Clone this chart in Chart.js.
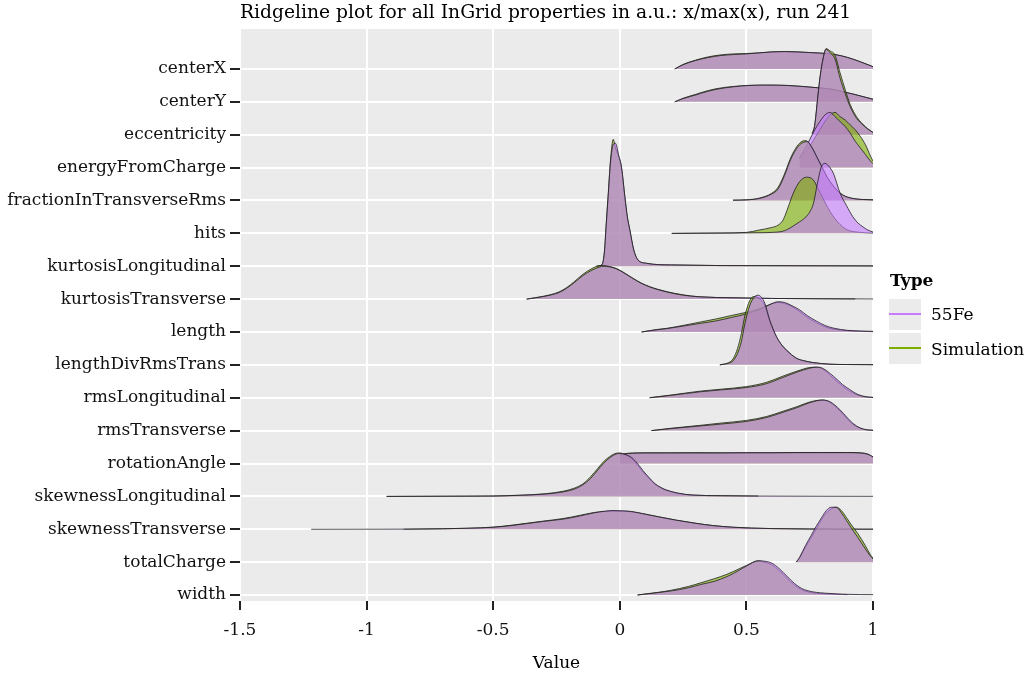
<!DOCTYPE html>
<html><head><meta charset="utf-8">
<script src="https://cdn.jsdelivr.net/npm/chart.js@4.4.0/dist/chart.umd.min.js"></script>
<style>
html,body{margin:0;padding:0;background:#fff;}
#wrap{position:relative;width:1028px;height:677px;overflow:hidden;}
#title{position:absolute;left:240px;top:0px;font:18.7px "DejaVu Serif",serif;color:#000;white-space:nowrap;line-height:24px;}
.lg{position:absolute;font:17px "DejaVu Serif",serif;color:#000;white-space:nowrap;line-height:22px;}
.key{position:absolute;left:889px;width:32px;height:31px;background:#EBEBEB;}
.key i{position:absolute;left:0;right:0;top:14px;height:2px;display:block;}
</style></head>
<body>
<div id="wrap">
<canvas id="c" width="1028" height="677"></canvas>
<div id="title">Ridgeline plot for all InGrid properties in a.u.: x/max(x), run 241</div>
<div class="lg" style="left:890px;top:269px;font-weight:bold;">Type</div>
<div class="key" style="top:299px;"><i style="background:#C77CFF"></i></div>
<div class="key" style="top:333px;"><i style="background:#7CAE00"></i></div>
<div class="lg" id="lg0" style="left:931px;top:303px;"></div>
<div class="lg" id="lg1" style="left:931px;top:338px;"></div>
</div>
<script>
const categories = ['centerX','centerY','eccentricity','energyFromCharge','fractionInTransverseRms','hits','kurtosisLongitudinal','kurtosisTransverse','length','lengthDivRmsTrans','rmsLongitudinal','rmsTransverse','rotationAngle','skewnessLongitudinal','skewnessTransverse','totalCharge','width'];
const types = ['55Fe','Simulation'];
const xTicks = [-1.5,-1,-0.5,0,0.5,1];

// ridge outlines as [value, scaled density] pairs
const fe_centerX = [[0.217,0],[0.25,0.13],[0.3,0.26],[0.35,0.35],[0.4,0.41],[0.45,0.44],[0.5,0.46],[0.55,0.49],[0.6,0.52],[0.65,0.53],[0.7,0.52],[0.75,0.5],[0.8,0.48],[0.85,0.44],[0.9,0.35],[0.95,0.22],[1.0,0.07]];
const sim_centerX = [[0.217,0],[0.25,0.14],[0.3,0.27],[0.35,0.37],[0.4,0.43],[0.45,0.46],[0.5,0.47],[0.55,0.49],[0.6,0.52],[0.65,0.53],[0.7,0.52],[0.75,0.5],[0.8,0.48],[0.85,0.44],[0.9,0.35],[0.95,0.22],[1.0,0.07]];
const fe_centerY = [[0.217,0],[0.25,0.1],[0.3,0.21],[0.32,0.26],[0.38,0.38],[0.45,0.46],[0.51,0.5],[0.58,0.51],[0.66,0.5],[0.72,0.47],[0.78,0.43],[0.84,0.38],[0.88,0.31],[0.92,0.24],[0.96,0.16],[1.0,0.08]];
const sim_centerY = [[0.217,0],[0.25,0.11],[0.3,0.23],[0.32,0.28],[0.38,0.4],[0.45,0.47],[0.51,0.5],[0.58,0.51],[0.66,0.5],[0.72,0.47],[0.78,0.43],[0.84,0.38],[0.88,0.31],[0.92,0.24],[0.96,0.16],[1.0,0.08]];
const fe_eccentricity = [[0.76,0.03],[0.77,0.3],[0.78,1.0],[0.79,1.7],[0.8,2.2],[0.815,2.6],[0.83,2.5],[0.85,2.3],[0.87,1.72],[0.89,1.25],[0.91,0.85],[0.935,0.5],[0.96,0.3],[0.98,0.17],[1.0,0.07]];
const sim_eccentricity = [[0.76,0.03],[0.77,0.3],[0.78,1.0],[0.79,1.7],[0.8,2.2],[0.815,2.62],[0.83,2.55],[0.85,2.42],[0.87,1.88],[0.89,1.38],[0.91,0.92],[0.935,0.55],[0.96,0.32],[0.98,0.18],[1.0,0.07]];
const fe_energyFromCharge = [[0.71,0.3],[0.73,0.55],[0.75,0.85],[0.77,1.15],[0.79,1.4],[0.81,1.6],[0.83,1.68],[0.85,1.55],[0.87,1.4],[0.89,1.25],[0.91,1.05],[0.93,0.8],[0.95,0.6],[0.97,0.4],[0.99,0.2],[1.0,0.12]];
const sim_energyFromCharge = [[0.71,0.3],[0.73,0.45],[0.75,0.65],[0.77,0.9],[0.79,1.15],[0.81,1.4],[0.83,1.6],[0.85,1.68],[0.87,1.55],[0.89,1.45],[0.91,1.3],[0.93,1.15],[0.95,0.95],[0.97,0.7],[0.99,0.35],[1.0,0.2]];
const fe_fractionInTransverseRms = [[0.447,0.01],[0.5,0.02],[0.55,0.06],[0.6,0.2],[0.625,0.35],[0.65,0.75],[0.675,1.25],[0.7,1.6],[0.72,1.75],[0.74,1.79],[0.76,1.6],[0.78,1.3],[0.8,1.0],[0.82,0.7],[0.84,0.48],[0.86,0.3],[0.88,0.17],[0.9,0.1],[0.93,0.05],[0.96,0.03],[1.0,0.02]];
const sim_fractionInTransverseRms = [[0.447,0.01],[0.5,0.02],[0.55,0.07],[0.6,0.22],[0.625,0.4],[0.65,0.8],[0.675,1.3],[0.7,1.65],[0.72,1.8],[0.735,1.82],[0.76,1.58],[0.78,1.28],[0.8,0.98],[0.82,0.68],[0.84,0.46],[0.86,0.29],[0.88,0.17],[0.9,0.1],[0.93,0.05],[0.96,0.03],[1.0,0.02]];
const fe_hits = [[0.205,0],[0.4,0.01],[0.55,0.02],[0.6,0.03],[0.65,0.08],[0.7,0.3],[0.735,0.5],[0.75,0.65],[0.765,0.92],[0.78,1.5],[0.795,2.0],[0.81,2.13],[0.83,2.0],[0.845,1.8],[0.87,1.22],[0.895,0.85],[0.92,0.51],[0.94,0.32],[0.96,0.2],[0.98,0.1],[1.0,0.04]];
const sim_hits = [[0.205,0],[0.4,0.01],[0.5,0.03],[0.55,0.1],[0.6,0.18],[0.625,0.25],[0.645,0.41],[0.665,0.8],[0.685,1.22],[0.71,1.57],[0.737,1.71],[0.765,1.62],[0.78,1.4],[0.8,1.1],[0.82,0.8],[0.84,0.55],[0.86,0.35],[0.88,0.2],[0.9,0.1],[0.95,0.03],[1.0,0.01]];
const fe_kurtosisLongitudinal = [[-0.092,0],[-0.07,0.05],[-0.06,0.5],[-0.055,1.1],[-0.046,2.12],[-0.037,3.13],[-0.026,3.7],[-0.017,3.74],[-0.005,3.4],[0.007,3.0],[0.02,2.12],[0.03,1.5],[0.04,1.1],[0.055,0.5],[0.072,0.19],[0.105,0.09],[0.15,0.05],[0.2,0.04],[0.4,0.02],[0.7,0.015],[1.0,0.01]];
const sim_kurtosisLongitudinal = [[-0.092,0],[-0.07,0.05],[-0.06,0.5],[-0.055,1.12],[-0.046,2.16],[-0.037,3.2],[-0.026,3.86],[-0.017,3.6],[-0.005,3.35],[0.007,2.98],[0.02,2.1],[0.03,1.48],[0.04,1.08],[0.055,0.5],[0.072,0.19],[0.105,0.09],[0.15,0.05],[0.2,0.04],[0.4,0.02],[0.7,0.015],[1.0,0.01]];
const fe_kurtosisTransverse = [[-0.368,0],[-0.3,0.08],[-0.276,0.12],[-0.24,0.2],[-0.21,0.33],[-0.18,0.5],[-0.145,0.72],[-0.11,0.88],[-0.079,0.98],[-0.066,1.0],[-0.04,0.98],[-0.013,0.92],[0.02,0.78],[0.053,0.62],[0.085,0.48],[0.118,0.37],[0.15,0.29],[0.184,0.22],[0.25,0.12],[0.316,0.07],[0.447,0.04],[0.6,0.02],[0.8,0.01],[0.93,0.005]];
const sim_kurtosisTransverse = [[-0.368,0],[-0.3,0.09],[-0.276,0.13],[-0.24,0.22],[-0.21,0.35],[-0.18,0.53],[-0.145,0.76],[-0.11,0.93],[-0.079,1.02],[-0.066,1.02],[-0.04,0.99],[-0.013,0.93],[0.02,0.79],[0.053,0.63],[0.085,0.49],[0.118,0.38],[0.15,0.3],[0.184,0.23],[0.25,0.13],[0.316,0.07],[0.447,0.04],[0.6,0.02],[0.8,0.01],[1.0,0.005]];
const fe_length = [[0.086,0],[0.15,0.07],[0.184,0.1],[0.25,0.18],[0.316,0.26],[0.382,0.34],[0.44,0.44],[0.5,0.55],[0.55,0.68],[0.6,0.86],[0.625,0.92],[0.65,0.9],[0.68,0.8],[0.711,0.67],[0.74,0.5],[0.777,0.33],[0.81,0.2],[0.843,0.12],[0.9,0.05],[0.95,0.03],[1.0,0.02]];
const sim_length = [[0.086,0],[0.15,0.08],[0.184,0.11],[0.25,0.2],[0.316,0.3],[0.382,0.4],[0.44,0.5],[0.5,0.6],[0.55,0.7],[0.6,0.86],[0.625,0.9],[0.65,0.87],[0.68,0.77],[0.711,0.62],[0.74,0.45],[0.777,0.28],[0.81,0.16],[0.843,0.09],[0.9,0.04],[0.95,0.02],[1.0,0.01]];
const fe_lengthDivRmsTrans = [[0.395,0],[0.43,0.05],[0.447,0.12],[0.465,0.35],[0.48,0.7],[0.494,1.25],[0.513,1.8],[0.53,2.05],[0.546,2.12],[0.56,2.05],[0.573,1.87],[0.592,1.37],[0.619,0.86],[0.64,0.6],[0.658,0.45],[0.698,0.2],[0.73,0.12],[0.763,0.07],[0.83,0.02],[0.9,0.01],[1.0,0.005]];
const sim_lengthDivRmsTrans = [[0.395,0],[0.43,0.07],[0.447,0.18],[0.465,0.5],[0.48,0.95],[0.494,1.5],[0.513,1.95],[0.53,2.08],[0.546,2.05],[0.56,1.95],[0.573,1.8],[0.592,1.33],[0.619,0.84],[0.64,0.6],[0.658,0.45],[0.698,0.2],[0.73,0.12],[0.763,0.07],[0.83,0.02],[0.9,0.01],[1.0,0.005]];
const fe_rmsLongitudinal = [[0.118,0],[0.2,0.07],[0.316,0.18],[0.4,0.24],[0.5,0.31],[0.58,0.43],[0.645,0.62],[0.7,0.78],[0.75,0.9],[0.777,0.93],[0.8,0.9],[0.843,0.66],[0.88,0.4],[0.908,0.25],[0.94,0.1],[0.974,0.03],[1.0,0.01]];
const sim_rmsLongitudinal = [[0.118,0],[0.2,0.08],[0.316,0.2],[0.4,0.26],[0.5,0.34],[0.58,0.47],[0.645,0.66],[0.7,0.81],[0.75,0.92],[0.777,0.93],[0.8,0.88],[0.843,0.6],[0.88,0.35],[0.908,0.2],[0.94,0.08],[0.974,0.02],[1.0,0.01]];
const fe_rmsTransverse = [[0.125,0],[0.2,0.06],[0.316,0.14],[0.4,0.2],[0.5,0.28],[0.58,0.4],[0.645,0.56],[0.7,0.7],[0.75,0.85],[0.8,0.93],[0.83,0.88],[0.869,0.64],[0.9,0.38],[0.921,0.22],[0.95,0.08],[0.974,0.03],[1.0,0.01]];
const sim_rmsTransverse = [[0.125,0],[0.2,0.07],[0.316,0.16],[0.4,0.23],[0.5,0.31],[0.58,0.43],[0.645,0.59],[0.7,0.73],[0.75,0.87],[0.8,0.93],[0.83,0.86],[0.869,0.6],[0.9,0.34],[0.921,0.19],[0.95,0.07],[0.974,0.02],[1.0,0.01]];
const fe_rotationAngle = [[0,0.25],[0.02,0.29],[0.05,0.31],[0.1,0.32],[0.2,0.32],[0.3,0.32],[0.4,0.32],[0.5,0.325],[0.6,0.325],[0.7,0.33],[0.8,0.33],[0.9,0.33],[0.95,0.32],[0.98,0.28],[1.0,0.2]];
const sim_rotationAngle = [[0,0.26],[0.02,0.3],[0.05,0.32],[0.1,0.325],[0.2,0.325],[0.3,0.33],[0.4,0.325],[0.5,0.33],[0.6,0.33],[0.7,0.335],[0.8,0.335],[0.9,0.335],[0.95,0.325],[0.98,0.285],[1.0,0.2]];
const fe_skewnessLongitudinal = [[-0.921,0],[-0.7,0.005],[-0.5,0.01],[-0.4,0.03],[-0.295,0.07],[-0.221,0.14],[-0.18,0.22],[-0.146,0.35],[-0.115,0.55],[-0.087,0.8],[-0.065,1.0],[-0.042,1.16],[-0.02,1.27],[0,1.31],[0.02,1.28],[0.047,1.18],[0.07,1.0],[0.092,0.78],[0.115,0.58],[0.137,0.4],[0.16,0.28],[0.182,0.2],[0.23,0.1],[0.286,0.04],[0.4,0.02],[0.55,0.01],[0.8,0.005],[1.0,0.003]];
const sim_skewnessLongitudinal = [[-0.921,0],[-0.7,0.005],[-0.5,0.012],[-0.4,0.035],[-0.295,0.08],[-0.221,0.16],[-0.18,0.25],[-0.146,0.38],[-0.115,0.6],[-0.087,0.85],[-0.065,1.05],[-0.042,1.2],[-0.02,1.3],[0,1.32],[0.02,1.27],[0.047,1.15],[0.07,0.95],[0.092,0.74],[0.115,0.55],[0.137,0.38],[0.16,0.27],[0.182,0.19],[0.23,0.09],[0.286,0.04],[0.4,0.02],[0.547,0.01]];
const fe_skewnessTransverse = [[-1.219,0],[-1.0,0.002],[-0.85,0.005],[-0.7,0.015],[-0.6,0.03],[-0.5,0.06],[-0.43,0.11],[-0.37,0.17],[-0.3,0.24],[-0.221,0.31],[-0.16,0.4],[-0.101,0.5],[-0.06,0.55],[-0.027,0.57],[0.01,0.56],[0.047,0.54],[0.1,0.46],[0.152,0.38],[0.22,0.28],[0.301,0.18],[0.37,0.11],[0.45,0.06],[0.52,0.035],[0.6,0.02],[0.75,0.008],[0.9,0.004],[1.0,0.002]];
const sim_skewnessTransverse = [[-0.854,0],[-0.7,0.015],[-0.6,0.03],[-0.5,0.065],[-0.43,0.12],[-0.37,0.18],[-0.3,0.25],[-0.221,0.33],[-0.16,0.42],[-0.101,0.51],[-0.06,0.54],[-0.027,0.55],[0.01,0.55],[0.047,0.53],[0.1,0.46],[0.152,0.38],[0.22,0.28],[0.301,0.18],[0.37,0.11],[0.45,0.06],[0.52,0.035],[0.6,0.02],[0.75,0.008],[1.0,0.002]];
const fe_totalCharge = [[0.697,0],[0.71,0.15],[0.733,0.5],[0.755,0.8],[0.775,1.08],[0.795,1.33],[0.816,1.57],[0.835,1.67],[0.855,1.67],[0.875,1.5],[0.895,1.27],[0.915,1.03],[0.94,0.75],[0.97,0.4],[0.99,0.18],[1.0,0.1]];
const sim_totalCharge = [[0.697,0],[0.71,0.12],[0.733,0.45],[0.755,0.73],[0.775,1.0],[0.795,1.27],[0.816,1.5],[0.835,1.62],[0.855,1.67],[0.875,1.57],[0.895,1.36],[0.915,1.13],[0.94,0.87],[0.97,0.5],[0.99,0.22],[1.0,0.12]];
const fe_width = [[0.07,0],[0.15,0.07],[0.2,0.12],[0.271,0.22],[0.32,0.32],[0.375,0.42],[0.42,0.55],[0.45,0.66],[0.5,0.88],[0.547,1.04],[0.57,1.03],[0.6,0.97],[0.63,0.8],[0.659,0.58],[0.69,0.35],[0.718,0.2],[0.76,0.1],[0.823,0.05],[0.9,0.02],[1.0,0.01]];
const sim_width = [[0.07,0],[0.15,0.08],[0.2,0.14],[0.271,0.26],[0.32,0.37],[0.375,0.5],[0.42,0.62],[0.45,0.72],[0.5,0.9],[0.547,1.04],[0.57,1.0],[0.6,0.92],[0.63,0.74],[0.659,0.52],[0.69,0.3],[0.718,0.16],[0.76,0.07],[0.823,0.03],[0.9,0.01]];

const fe55Ridges = [fe_centerX,fe_centerY,fe_eccentricity,fe_energyFromCharge,fe_fractionInTransverseRms,fe_hits,fe_kurtosisLongitudinal,fe_kurtosisTransverse,fe_length,fe_lengthDivRmsTrans,fe_rmsLongitudinal,fe_rmsTransverse,fe_rotationAngle,fe_skewnessLongitudinal,fe_skewnessTransverse,fe_totalCharge,fe_width];
const simRidges = [sim_centerX,sim_centerY,sim_eccentricity,sim_energyFromCharge,sim_fractionInTransverseRms,sim_hits,sim_kurtosisLongitudinal,sim_kurtosisTransverse,sim_length,sim_lengthDivRmsTrans,sim_rmsLongitudinal,sim_rmsTransverse,sim_rotationAngle,sim_skewnessLongitudinal,sim_skewnessTransverse,sim_totalCharge,sim_width];

document.getElementById('lg0').textContent = types[0];
document.getElementById('lg1').textContent = types[1];

const N = categories.length;
const FONT = 'DejaVu Serif';
const FS = 17;
const datasets = [];
categories.forEach((cat, i) => {
  const base = N - i;
  const parts = [
    [simRidges[i], 'rgba(124,174,0,0.6)', 1, types[1]],
    [fe55Ridges[i], 'rgba(199,124,255,0.6)', 0, types[0]]
  ];
  parts.forEach(([pts, col, k, t]) => {
    datasets.push({
      label: cat + ' ' + t,
      data: pts.map(p => ({x: p[0], y: base + p[1]})),
      fill: {value: base},
      backgroundColor: col,
      borderColor: 'rgba(30,30,30,0.92)',
      borderWidth: 0.85,
      pointRadius: 0,
      cubicInterpolationMode: 'monotone',
      order: (N - 1 - i) * 2 + k
    });
  });
});

const panelBg = {
  id: 'panelBg',
  beforeDraw(chart) {
    const {ctx, chartArea: a} = chart;
    ctx.save();
    ctx.fillStyle = '#EBEBEB';
    ctx.fillRect(a.left, a.top, a.right - a.left, a.bottom - a.top);
    ctx.restore();
  }
};

new Chart(document.getElementById('c'), {
  type: 'line',
  data: {datasets},
  plugins: [panelBg],
  options: {
    responsive: false,
    devicePixelRatio: 1,
    animation: false,
    layout: {padding: {left: 0, right: 155, top: 29, bottom: 0}},
    plugins: {legend: {display: false}, tooltip: {enabled: false}, title: {display: false}},
    scales: {
      x: {
        type: 'linear', min: -1.5, max: 1,
        afterBuildTicks: s => { s.ticks = xTicks.map(v => ({value: v})); },
        afterFit: s => { s.height = 76; },
        ticks: {padding: 10, maxRotation: 0, color: '#111', font: {family: FONT, size: FS}, callback: v => String(v)},
        grid: {color: '#fff', lineWidth: 2, tickColor: '#222', tickWidth: 2, tickLength: 9},
        border: {display: false},
        title: {display: true, text: 'Value', color: '#000', font: {family: FONT, size: FS}, padding: {top: 4, bottom: 3}}
      },
      y: {
        type: 'linear', min: 0.8175, max: 18.2167,
        afterBuildTicks: s => { s.ticks = categories.map((c, i) => ({value: N - i})); },
        afterFit: s => { s.width = 240; },
        ticks: {autoSkip: false, padding: 4, color: '#111', font: {family: FONT, size: FS}, callback: v => categories[N - v]},
        grid: {color: '#fff', lineWidth: 2, tickColor: '#222', tickWidth: 2, tickLength: 10},
        border: {display: false}
      }
    }
  }
});
</script>
</body></html>
